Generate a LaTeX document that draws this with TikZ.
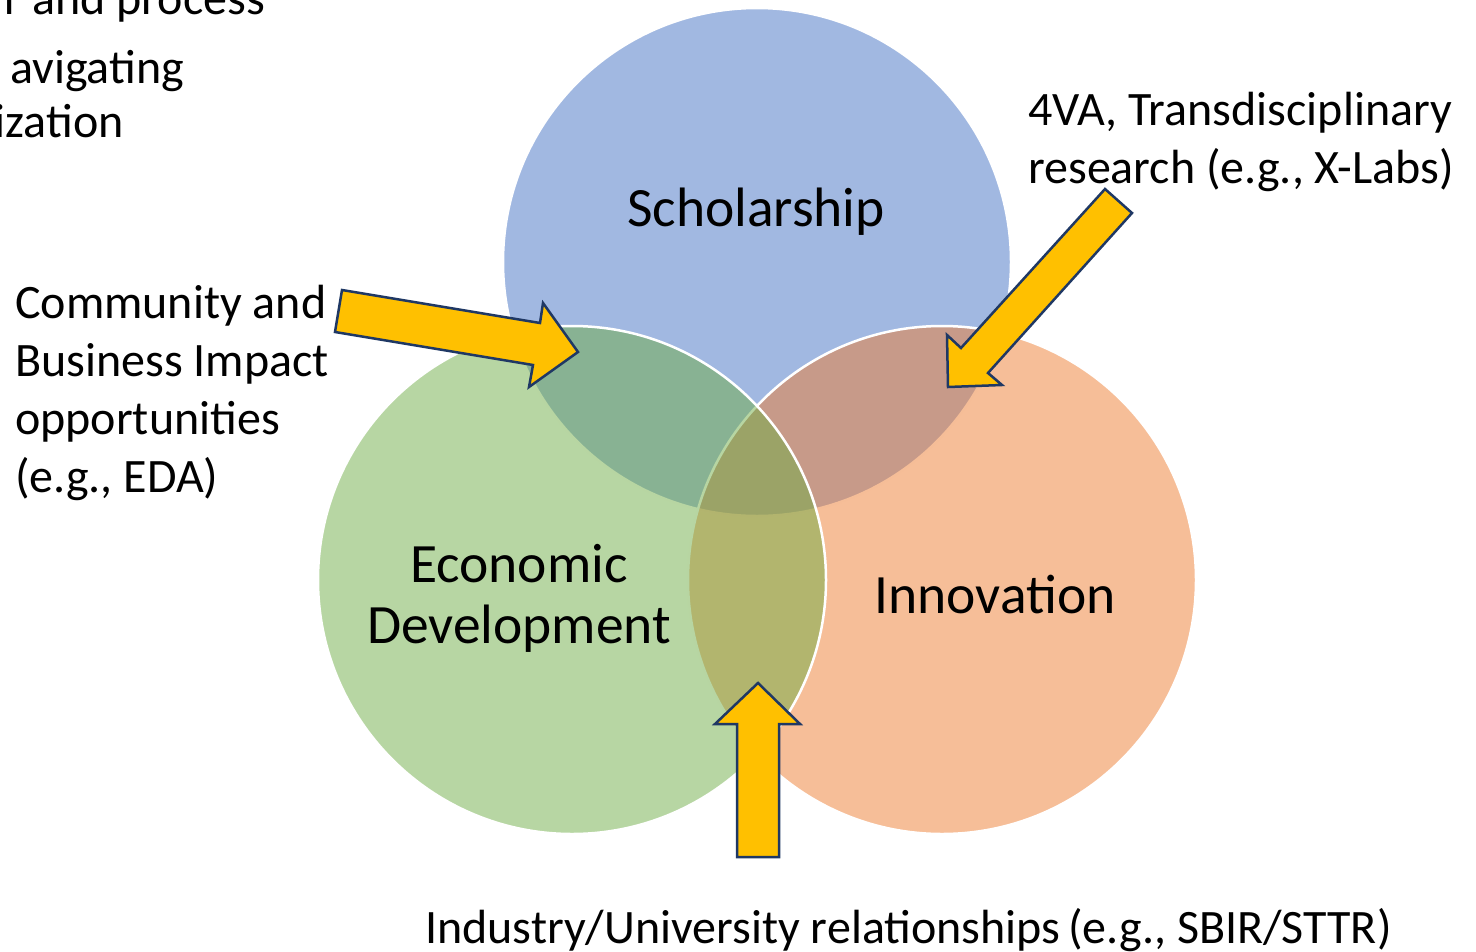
\documentclass[tikz,border=0pt]{standalone}
\usepackage{fontspec}
\setmainfont{Carlito}
\definecolor{scholblue}{HTML}{4472C4}
\definecolor{econgreen}{HTML}{70AD47}
\definecolor{innovorange}{HTML}{ED7D31}
\definecolor{arrowgold}{HTML}{FFC000}
\definecolor{arrownavy}{HTML}{1F3864}
\begin{document}
\begin{tikzpicture}
  [x=1pt,y=-1pt,
   ring/.style={fill=#1,fill opacity=.5,draw=white,line width=2.5pt},
   blockarrow/.style={fill=arrowgold,draw=arrownavy,line width=2.5pt,line join=miter},
   every node/.style={inner sep=0pt,text=black},
   ringtext/.style={font=\fontsize{55.5}{60.5}\selectfont,align=center,anchor=base},
   sidetext/.style={font=\fontsize{48}{58}\selectfont,align=left,anchor=base west}]
  \useasboundingbox (0,0) rectangle (1476,951);
  % the three circles, green one on top
  \foreach \c/\col in {{(757,262)}/scholblue,{(942,580)}/innovorange,{(572,580)}/econgreen}
    \path[ring=\col] \c circle (254);
  % circle names (base = last line)
  \node[ringtext] (schol) at (756,226) {Scholarship};
  \node[ringtext] (econ) at (519,643) {Economic\\Development};
  \node[ringtext] (innov) at (995,613) {Innovation};
  % side labels
  \node[sidetext] (community) at (15,492) {Community and\\Business Impact\\opportunities\\(e.g., EDA)};
  \node[sidetext] (fourva) at (1028,183) {4VA, Transdisciplinary\\research (e.g., X-Labs)};
  \node[sidetext] (industry) at (425,943) {Industry/University relationships\,(e.g., SBIR/STTR)};
  % cut-off text at top left
  \node[sidetext,anchor=base east] (process) at (265,14) {r and process};
  \node[sidetext,anchor=base east] (navig) at (184,83) {avigating};
  \node[sidetext,anchor=base east] (organ) at (124,137) {ization};
  % arrows
  \draw[blockarrow] (342,290) -- (540,323) -- (543,303) -- (578,352) -- (529,387) -- (533,365) -- (335,332) -- cycle;
  \draw[blockarrow] (1105,189) -- (1132,213) -- (988,373) -- (1002,385) -- (948,387) -- (947,335) -- (961,348) -- cycle;
  \draw[blockarrow] (758,683) -- (800,724) -- (779,724) -- (779,857) -- (737,857) -- (737,724) -- (715,724) -- cycle;
\end{tikzpicture}
\end{document}
